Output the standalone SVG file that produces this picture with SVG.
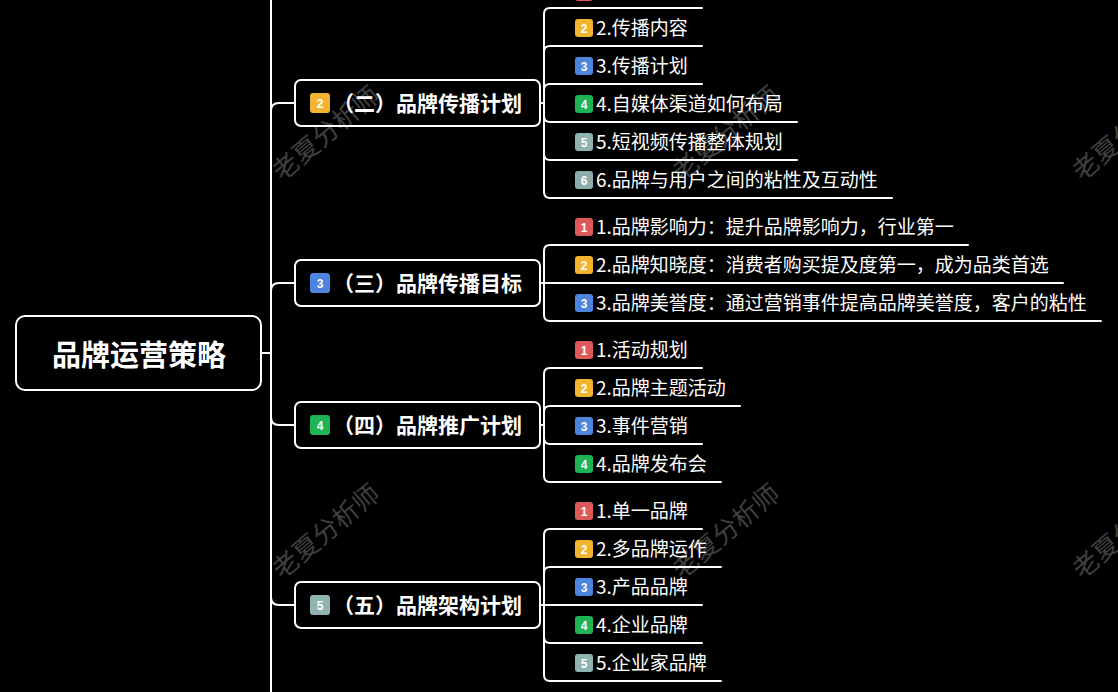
<svg xmlns="http://www.w3.org/2000/svg" width="1118" height="692" viewBox="0 0 1118 692">
<style>
.bg{fill:#000}
.ln{fill:none;stroke:#fff;stroke-width:2;stroke-linecap:round}
.box{fill:#000;stroke:#fff;stroke-width:2}
.root{font-family:"Noto Sans CJK SC","Noto Sans",sans-serif;font-size:29px;font-weight:700;fill:#fff}
.br{font-family:"Noto Sans CJK SC","Noto Sans",sans-serif;font-size:21px;font-weight:700;fill:#fff}
.ch{font-family:"Noto Sans CJK SC","Noto Sans",sans-serif;font-size:19px;fill:#fff}
.num{font-family:"Liberation Sans","Noto Sans",sans-serif;font-size:12px;font-weight:700;fill:#fff;text-anchor:middle}
.wm{font-family:"Noto Sans CJK SC","Noto Sans",sans-serif;font-size:26px;fill:#fff;fill-opacity:0.26}
.c1{fill:#de5a5a}.c2{fill:#f2b42f}.c3{fill:#4d84dd}.c4{fill:#20b353}.c5{fill:#8fb3b0}.c6{fill:#8cadab}
</style>
<rect class="bg" x="0" y="0" width="1118" height="692"/>

<g id="connectors">
<path class="ln" d="M271 0 V692"/>
<path class="ln" d="M261 353 H271"/>
<path class="ln" d="M271 111 Q271 103 279 103 H295"/>
<path class="ln" d="M271 291 Q271 283 279 283 H295"/>
<path class="ln" d="M271 417 Q271 425 279 425 H295"/>
<path class="ln" d="M271 597 Q271 605 279 605 H295"/>
<!-- (二) -->
<path class="ln" d="M540 103 H544 V14 Q544 8 550 8"/>
<path class="ln" d="M540 103 H544 V52 Q544 46 550 46"/>
<path class="ln" d="M540 103 H544 V90 Q544 84 550 84"/>
<path class="ln" d="M540 103 H544 V116 Q544 122 550 122"/>
<path class="ln" d="M540 103 H544 V154 Q544 160 550 160"/>
<path class="ln" d="M540 103 H544 V192 Q544 198 550 198"/>
<!-- (三) -->
<path class="ln" d="M540 283 H544 V251 Q544 245 550 245"/>
<path class="ln" d="M540 283 H550"/>
<path class="ln" d="M540 283 H544 V315 Q544 321 550 321"/>
<!-- (四) -->
<path class="ln" d="M540 425 H544 V374 Q544 368 550 368"/>
<path class="ln" d="M540 425 H544 V412 Q544 406 550 406"/>
<path class="ln" d="M540 425 H544 V438 Q544 444 550 444"/>
<path class="ln" d="M540 425 H544 V476 Q544 482 550 482"/>
<!-- (五) -->
<path class="ln" d="M540 605 H544 V535 Q544 529 550 529"/>
<path class="ln" d="M540 605 H544 V573 Q544 567 550 567"/>
<path class="ln" d="M540 605 H550"/>
<path class="ln" d="M540 605 H544 V637 Q544 643 550 643"/>
<path class="ln" d="M540 605 H544 V675 Q544 681 550 681"/>
</g>

<g id="root">
<rect class="box" x="16" y="316" width="245" height="74" rx="9"/>
<text class="root" x="139" y="366" text-anchor="middle">品牌运营策略</text>
</g>

<g id="b2">
<rect class="box" x="295" y="80" width="245" height="46" rx="6"/>
<rect class="c2" x="310" y="93" width="20" height="20" rx="3"/>
<text class="num" x="320" y="107.5">2</text>
<text class="br" x="333" y="111">（二）品牌传播计划</text>
</g>
<g id="b2c1"><rect class="c1" x="575" y="-17" width="18" height="18" rx="3"/><path class="ln" d="M550 8 H702"/></g>
<g id="b2c2"><rect class="c2" x="575" y="19" width="18" height="18" rx="3"/><text class="num" x="584" y="32.5">2</text><text class="ch" x="596" y="35">2.传播内容</text><path class="ln" d="M550 46 H702"/></g>
<g id="b2c3"><rect class="c3" x="575" y="57" width="18" height="18" rx="3"/><text class="num" x="584" y="70.5">3</text><text class="ch" x="596" y="73">3.传播计划</text><path class="ln" d="M550 84 H702"/></g>
<g id="b2c4"><rect class="c4" x="575" y="95" width="18" height="18" rx="3"/><text class="num" x="584" y="108.5">4</text><text class="ch" x="596" y="111">4.自媒体渠道如何布局</text><path class="ln" d="M550 122 H797"/></g>
<g id="b2c5"><rect class="c5" x="575" y="133" width="18" height="18" rx="3"/><text class="num" x="584" y="146.5">5</text><text class="ch" x="596" y="149">5.短视频传播整体规划</text><path class="ln" d="M550 160 H797"/></g>
<g id="b2c6"><rect class="c6" x="575" y="171" width="18" height="18" rx="3"/><text class="num" x="584" y="184.5">6</text><text class="ch" x="596" y="187">6.品牌与用户之间的粘性及互动性</text><path class="ln" d="M550 198 H892"/></g>

<g id="b3">
<rect class="box" x="295" y="260" width="245" height="46" rx="6"/>
<rect class="c3" x="310" y="273" width="20" height="20" rx="3"/>
<text class="num" x="320" y="287.5">3</text>
<text class="br" x="333" y="291">（三）品牌传播目标</text>
</g>
<g id="b3c1"><rect class="c1" x="575" y="218" width="18" height="18" rx="3"/><text class="num" x="584" y="231.5">1</text><text class="ch" x="596" y="234">1.品牌影响力：提升品牌影响力，行业第一</text><path class="ln" d="M550 245 H968"/></g>
<g id="b3c2"><rect class="c2" x="575" y="256" width="18" height="18" rx="3"/><text class="num" x="584" y="269.5">2</text><text class="ch" x="596" y="272">2.品牌知晓度：消费者购买提及度第一，成为品类首选</text><path class="ln" d="M550 283 H1063"/></g>
<g id="b3c3"><rect class="c3" x="575" y="294" width="18" height="18" rx="3"/><text class="num" x="584" y="307.5">3</text><text class="ch" x="596" y="310">3.品牌美誉度：通过营销事件提高品牌美誉度，客户的粘性</text><path class="ln" d="M550 321 H1101"/></g>

<g id="b4">
<rect class="box" x="295" y="402" width="245" height="46" rx="6"/>
<rect class="c4" x="310" y="415" width="20" height="20" rx="3"/>
<text class="num" x="320" y="429.5">4</text>
<text class="br" x="333" y="433">（四）品牌推广计划</text>
</g>
<g id="b4c1"><rect class="c1" x="575" y="341" width="18" height="18" rx="3"/><text class="num" x="584" y="354.5">1</text><text class="ch" x="596" y="357">1.活动规划</text><path class="ln" d="M550 368 H702"/></g>
<g id="b4c2"><rect class="c2" x="575" y="379" width="18" height="18" rx="3"/><text class="num" x="584" y="392.5">2</text><text class="ch" x="596" y="395">2.品牌主题活动</text><path class="ln" d="M550 406 H740"/></g>
<g id="b4c3"><rect class="c3" x="575" y="417" width="18" height="18" rx="3"/><text class="num" x="584" y="430.5">3</text><text class="ch" x="596" y="433">3.事件营销</text><path class="ln" d="M550 444 H702"/></g>
<g id="b4c4"><rect class="c4" x="575" y="455" width="18" height="18" rx="3"/><text class="num" x="584" y="468.5">4</text><text class="ch" x="596" y="471">4.品牌发布会</text><path class="ln" d="M550 482 H721"/></g>

<g id="b5">
<rect class="box" x="295" y="582" width="245" height="46" rx="6"/>
<rect class="c5" x="310" y="595" width="20" height="20" rx="3"/>
<text class="num" x="320" y="609.5">5</text>
<text class="br" x="333" y="613">（五）品牌架构计划</text>
</g>
<g id="b5c1"><rect class="c1" x="575" y="502" width="18" height="18" rx="3"/><text class="num" x="584" y="515.5">1</text><text class="ch" x="596" y="518">1.单一品牌</text><path class="ln" d="M550 529 H702"/></g>
<g id="b5c2"><rect class="c2" x="575" y="540" width="18" height="18" rx="3"/><text class="num" x="584" y="553.5">2</text><text class="ch" x="596" y="556">2.多品牌运作</text><path class="ln" d="M550 567 H721"/></g>
<g id="b5c3"><rect class="c3" x="575" y="578" width="18" height="18" rx="3"/><text class="num" x="584" y="591.5">3</text><text class="ch" x="596" y="594">3.产品品牌</text><path class="ln" d="M550 605 H702"/></g>
<g id="b5c4"><rect class="c4" x="575" y="616" width="18" height="18" rx="3"/><text class="num" x="584" y="629.5">4</text><text class="ch" x="596" y="632">4.企业品牌</text><path class="ln" d="M550 643 H702"/></g>
<g id="b5c5"><rect class="c5" x="575" y="654" width="18" height="18" rx="3"/><text class="num" x="584" y="667.5">5</text><text class="ch" x="596" y="670">5.企业家品牌</text><path class="ln" d="M550 681 H721"/></g>

<g id="watermarks">
<text class="wm" transform="translate(282 182) rotate(-40)">老夏分析师</text>
<text class="wm" transform="translate(682 182) rotate(-40)">老夏分析师</text>
<text class="wm" transform="translate(1082 182) rotate(-40)">老夏分析师</text>
<text class="wm" transform="translate(282 580) rotate(-40)">老夏分析师</text>
<text class="wm" transform="translate(682 580) rotate(-40)">老夏分析师</text>
<text class="wm" transform="translate(1082 580) rotate(-40)">老夏分析师</text>
</g>
</svg>
